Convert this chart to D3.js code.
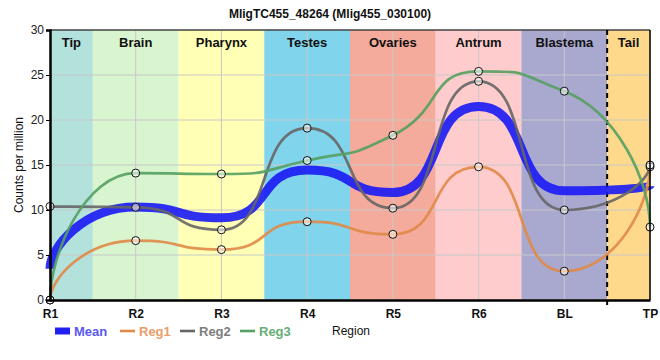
<!DOCTYPE html>
<html><head><meta charset="utf-8">
<script src="https://cdn.jsdelivr.net/npm/d3@7"></script>
<style>body{margin:0;background:#fff;} svg{display:block;font-family:"Liberation Sans",Arial,sans-serif;}</style>
</head><body>
<svg id="c" width="660" height="360"></svg>
<script>
const categories = ["R1","R2","R3","R4","R5","R6","BL","TP"];
const reg1 = [0, 6.6, 5.6, 8.7, 7.3, 14.8, 3.2, 14.8];
const reg2 = [10.4, 10.3, 7.8, 19.1, 10.2, 24.3, 10.0, 15.0];
const reg3 = [0, 14.1, 14.0, 15.5, 18.3, 25.4, 23.2, 8.1];
const mean = categories.map((c,i)=>(reg1[i]+reg2[i]+reg3[i])/3);
const regions = ["Tip","Brain","Pharynx","Testes","Ovaries","Antrum","Blastema","Tail"];
const regionColors = ["#b3e2dd","#d8f5d0","#ffffb5","#80d4ec","#f5ab9c","#ffcccd","#a9a8cf","#ffd98b"];
const yTicks = [0,5,10,15,20,25,30];

const svg = d3.select("#c");
const L=50, R=650, T=30, B=300;
const x = d3.scalePoint().domain(categories).range([L,R]);
const y = d3.scaleLinear().domain([0,30]).range([B,T]);
const step = x.step();

// smooth spline with clamped tangents (no false extremes), long handles
function splinePath(vals){
  const pts = vals.map((v,i)=>[x(categories[i]), y(v)]);
  const n = pts.length, f = 0.6, e = 0.35;
  const lc = [], rc = [];
  for(let i=1;i<n-1;i++){
    const [px,py]=pts[i], [ax,ay]=pts[i-1], [bx,by]=pts[i+1];
    let lx = px - f*(px-ax), rx = px + f*(bx-px);
    let ly = py + f*(ay-py), ry = py + f*(by-py);
    const corr = (ry-ly)*(rx-px)/(rx-lx) + py - ry;
    ly += corr; ry += corr;
    if (ly > ay && ly > py){ ly = Math.max(ay,py); ry = 2*py - ly; }
    else if (ly < ay && ly < py){ ly = Math.min(ay,py); ry = 2*py - ly; }
    if (ry > by && ry > py){ ry = Math.max(by,py); ly = 2*py - ry; }
    else if (ry < by && ry < py){ ry = Math.min(by,py); ly = 2*py - ry; }
    lc[i]=[lx,ly]; rc[i]=[rx,ry];
  }
  rc[0] = [pts[0][0], pts[0][1] + e*(pts[1][1]-pts[0][1])];
  lc[n-1] = [pts[n-1][0], pts[n-1][1] - e*(pts[n-1][1]-pts[n-2][1])];
  const p = d3.path();
  p.moveTo(pts[0][0], pts[0][1]);
  for(let i=1;i<n;i++){
    p.bezierCurveTo(rc[i-1][0], rc[i-1][1], lc[i][0], lc[i][1], pts[i][0], pts[i][1]);
  }
  return p.toString();
}

// bands
svg.append("g").selectAll("rect").data(regions).join("rect")
  .attr("x",(d,i)=>Math.max(L, x(categories[i])-step/2))
  .attr("width",(d,i)=>Math.min(R, x(categories[i])+step/2)-Math.max(L, x(categories[i])-step/2))
  .attr("y",T).attr("height",B-T)
  .attr("fill",(d,i)=>regionColors[i]);

// grid
svg.append("g").selectAll("line").data(yTicks).join("line")
  .attr("x1",L).attr("x2",R).attr("y1",d=>y(d)).attr("y2",d=>y(d))
  .attr("stroke","#c8c8c8").attr("stroke-width",1);
svg.append("g").selectAll("line").data(categories).join("line")
  .attr("x1",d=>x(d)).attr("x2",d=>x(d)).attr("y1",T).attr("y2",B)
  .attr("stroke","#c8c8c8").attr("stroke-width",1);

// region labels
svg.append("g").selectAll("text").data(regions).join("text")
  .attr("x",(d,i)=>(Math.max(L, x(categories[i])-step/2)+Math.min(R, x(categories[i])+step/2))/2)
  .attr("y",47).attr("text-anchor","middle")
  .attr("font-size",13).attr("font-weight","bold").attr("fill","#111").text(d=>d);

// dashed separator
const sepX = x("BL")+step/2;
svg.append("line").attr("x1",sepX).attr("x2",sepX).attr("y1",T).attr("y2",B+6)
  .attr("stroke","#000").attr("stroke-width",2).attr("stroke-dasharray","5,4");

svg.append("path").attr("d",splinePath(mean)).attr("fill","none")
  .attr("stroke","#1a1af5").attr("stroke-width",9).attr("stroke-opacity",0.9);

const series = [
  {name:"Reg1", vals:reg1, color:"#e08a48"},
  {name:"Reg2", vals:reg2, color:"#666666"},
  {name:"Reg3", vals:reg3, color:"#55a062"}
];
series.forEach(s=>{
  svg.append("path").attr("d",splinePath(s.vals)).attr("fill","none")
    .attr("stroke",s.color).attr("stroke-width",2.7).attr("stroke-opacity",0.9);
});
series.forEach(s=>{
  svg.append("g").selectAll("circle").data(s.vals).join("circle")
    .attr("cx",(d,i)=>x(categories[i])).attr("cy",d=>y(d)).attr("r",4)
    .attr("fill","rgba(255,255,255,0.55)").attr("stroke","#111").attr("stroke-width",1);
});

// borders
svg.append("line").attr("x1",L).attr("x2",R).attr("y1",T).attr("y2",T).attr("stroke","#000").attr("stroke-width",1);
svg.append("line").attr("x1",R).attr("x2",R).attr("y1",T).attr("y2",B).attr("stroke","#000").attr("stroke-width",1.5);

// axes
const yAxis = svg.append("g").attr("transform",`translate(${L},0)`)
  .call(d3.axisLeft(y).tickValues(yTicks).tickSize(4).tickPadding(2));
yAxis.select(".domain").attr("stroke-width",2.5);
yAxis.selectAll("text").attr("font-size",12).attr("fill","#222").attr("font-family","Liberation Sans, Arial, sans-serif");

const xAxis = svg.append("g").attr("transform",`translate(0,${B})`)
  .call(d3.axisBottom(x).tickSize(0).tickPadding(9));
xAxis.select(".domain").attr("stroke-width",2.5);
xAxis.selectAll("text").attr("font-size",12).attr("font-weight","bold").attr("fill","#111").attr("font-family","Liberation Sans, Arial, sans-serif");

// title
svg.append("text").attr("x",330).attr("y",18).attr("text-anchor","middle")
  .attr("font-size",12).attr("font-weight","bold").attr("fill","#111")
  .text("MligTC455_48264 (Mlig455_030100)");

// y label
svg.append("text").attr("transform","translate(23,165) rotate(-90)").attr("text-anchor","middle")
  .attr("font-size",12).attr("fill","#111").text("Counts per million");

// x label
svg.append("text").attr("x",351).attr("y",335).attr("text-anchor","middle")
  .attr("font-size",12).attr("fill","#111").text("Region");

// legend
const legend = [
  {name:"Mean", color:"#2020f5", text:"#5858f0", w:7},
  {name:"Reg1", color:"#e08a48", text:"#eb9c68", w:2.6},
  {name:"Reg2", color:"#666666", text:"#7d7d7d", w:2.6},
  {name:"Reg3", color:"#55a062", text:"#66ae75", w:2.6}
];
const lg = svg.append("g");
legend.forEach((d,i)=>{
  const lx = 55 + i*60 + (i>0?5:0);
  lg.append("line").attr("x1",lx).attr("x2",lx+15).attr("y1",331).attr("y2",331)
    .attr("stroke",d.color).attr("stroke-width",d.w);
  lg.append("text").attr("x",lx+19).attr("y",335.5).attr("font-size",13).attr("font-weight","bold")
    .attr("fill",d.text).text(d.name);
});
</script>
</body></html>
